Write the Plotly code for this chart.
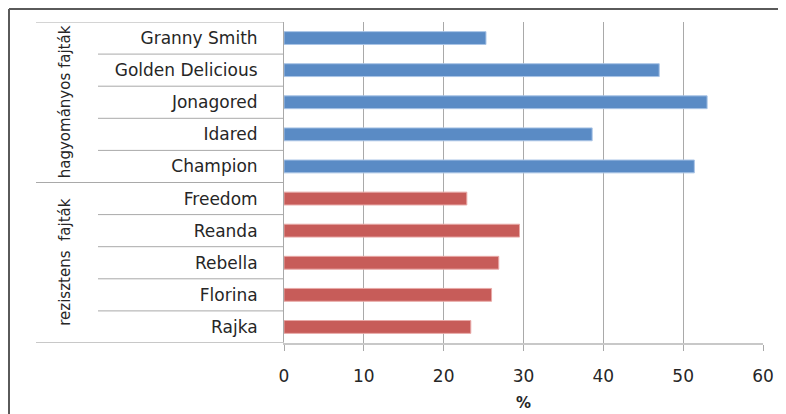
import plotly.graph_objects as go

# ---- data ----
trad_names = ["Granny Smith", "Golden Delicious", "Jonagored", "Idared", "Champion"]
trad_vals = [25.3, 47.0, 53.0, 38.6, 51.4]
res_names = ["Freedom", "Reanda", "Rebella", "Florina", "Rajka"]
res_vals = [22.9, 29.5, 26.9, 26.0, 23.4]
group_labels = ["hagyományos fajták", "rezisztens  fajták"]
x_ticks = [0, 10, 20, 30, 40, 50, 60]
x_title = "<b>%</b>"

order = list(reversed(res_names)) + list(reversed(trad_names))

# page offset of the plot div (default body margin)
OFF = 8
W, H = 786 - OFF, 414 - OFF
# plot area in page pixels: x 284..763, y 22..343
PL, PR, PT, PB = 284, 763, 22, 343
L = PL - OFF
R = W - (PR - OFF)
T = PT - OFF
B = H - (PB - OFF)
pw = PR - PL
ph = PB - PT

def px_x(p):  # page pixel -> paper x
    return (p - PL) / pw

def px_y(p):  # page pixel -> paper y
    return (PB - p) / ph

GRID = "#a9a9a9"
FONT = "DejaVu Sans"
TXT = "#262626"

fig = go.Figure()
fig.add_trace(go.Bar(y=res_names, x=res_vals, orientation="h", width=0.4,
                     marker=dict(color="#c75c59", line=dict(color="#e8a9a7", width=1)),
                     showlegend=False))
fig.add_trace(go.Bar(y=trad_names, x=trad_vals, orientation="h", width=0.4,
                     marker=dict(color="#5a8bc5", line=dict(color="#a9c4e6", width=1)),
                     showlegend=False))

shapes = []
n = len(order)
for k in range(n - 1):
    yv = k + 0.5
    x0 = px_x(36) if k == len(res_names) - 1 else px_x(98)
    shapes.append(dict(type="line", xref="paper", yref="y", x0=x0, x1=0,
                       y0=yv, y1=yv, line=dict(color=GRID, width=1)))
shapes.append(dict(type="line", xref="paper", yref="y", x0=px_x(36), x1=0,
                   y0=n - 0.5, y1=n - 0.5, line=dict(color=GRID, width=1)))
shapes.append(dict(type="line", xref="paper", yref="y", x0=px_x(36), x1=0,
                   y0=-0.5, y1=-0.5, line=dict(color="#c8c8c8", width=2)))
# outer frame (left & top), just inside the figure edge
FX = OFF + 1
shapes.append(dict(type="line", xref="paper", yref="paper", x0=px_x(FX), x1=px_x(820),
                   y0=px_y(FX), y1=px_y(FX), line=dict(color="#5a5a5a", width=2)))
shapes.append(dict(type="line", xref="paper", yref="paper", x0=px_x(FX), x1=px_x(FX),
                   y0=px_y(FX), y1=px_y(440), line=dict(color="#5a5a5a", width=2)))

annotations = [
    dict(text=group_labels[0], xref="paper", yref="y", x=px_x(65), y=7, textangle=-90,
         showarrow=False, font=dict(family=FONT, size=15, color=TXT), xanchor="center", yanchor="middle"),
    dict(text=group_labels[1], xref="paper", yref="y", x=px_x(65), y=2, textangle=-90,
         showarrow=False, font=dict(family=FONT, size=15, color=TXT), xanchor="center", yanchor="middle"),
    dict(text=x_title, xref="paper", yref="paper", x=px_x(523), y=px_y(403), showarrow=False,
         font=dict(family=FONT, size=15, color=TXT), xanchor="center", yanchor="middle"),
]

fig.update_layout(
    width=W, height=H,
    margin=dict(l=L, r=R, t=T, b=B, autoexpand=False),
    paper_bgcolor="white", plot_bgcolor="white",
    shapes=shapes, annotations=annotations,
    font=dict(family=FONT, size=17, color=TXT),
    xaxis=dict(range=[0, 60], tickvals=x_ticks, showgrid=True, gridcolor=GRID, gridwidth=1,
               ticks="outside", ticklen=6, tickcolor=GRID, showline=True, linecolor="#c8c8c8",
               linewidth=2, zeroline=False, tickfont=dict(family=FONT, size=17, color=TXT),
               ticklabelstandoff=11, fixedrange=True),
    yaxis=dict(type="category", categoryorder="array", categoryarray=order, range=[-0.5, n - 0.5],
               showline=True, linecolor=GRID, linewidth=1, ticks="", showgrid=False,
               tickfont=dict(family=FONT, size=17, color=TXT), ticklabelstandoff=22,
               fixedrange=True),
)

fig.write_html("out.html")
